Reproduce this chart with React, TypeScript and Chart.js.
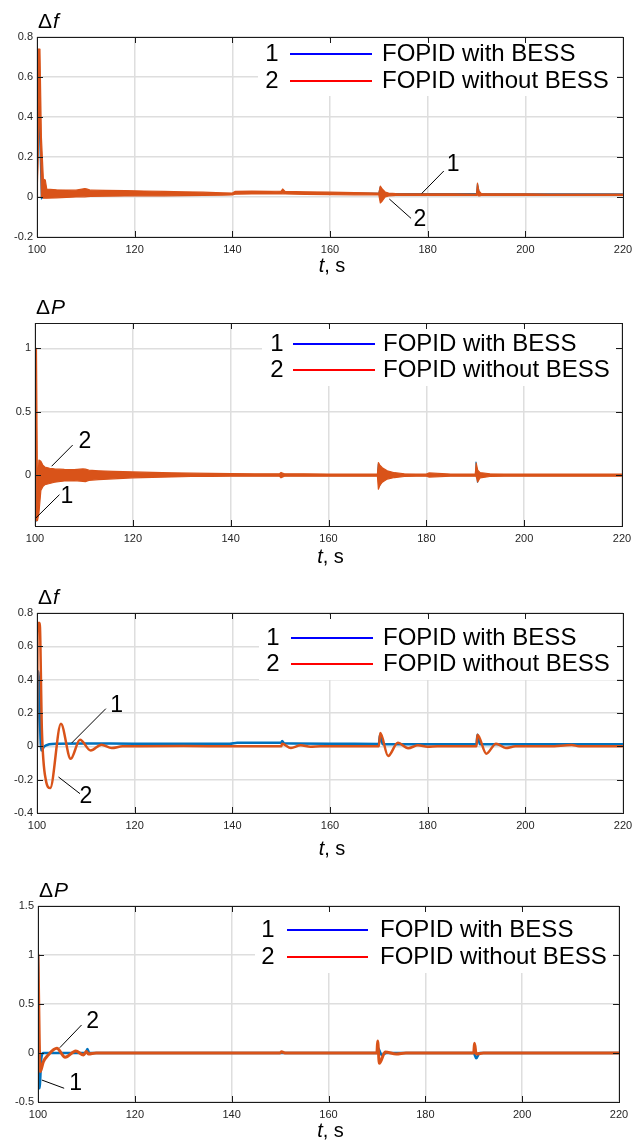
import React, { useEffect, useRef } from "react";
import { Chart, registerables } from "chart.js";

Chart.register(...registerables);

const FONT = '"Liberation Sans", Arial, Helvetica, sans-serif';
const BLUE = "#0072BD";
const ORANGE = "#D95319";
const LEG_COLORS = ["#0000FF", "#FF0000"];

const SERIES_NAMES = ["FOPID with BESS", "FOPID without BESS"];
const SERIES_NUMS = ["1", "2"];

const xTickValues = [100, 120, 140, 160, 180, 200, 220];
const xTickLabels = ["100", "120", "140", "160", "180", "200", "220"];

const yTicksF1 = [-0.2, 0, 0.2, 0.4, 0.6, 0.8];
const yLabelsF1 = ["-0.2", "0", "0.2", "0.4", "0.6", "0.8"];
const yTicksP2 = [0, 0.5, 1];
const yLabelsP2 = ["0", "0.5", "1"];
const yTicksF3 = [-0.4, -0.2, 0, 0.2, 0.4, 0.6, 0.8];
const yLabelsF3 = ["-0.4", "-0.2", "0", "0.2", "0.4", "0.6", "0.8"];
const yTicksP4 = [-0.5, 0, 0.5, 1, 1.5];
const yLabelsP4 = ["-0.5", "0", "0.5", "1", "1.5"];

// ---------- Panel 1: Δf (envelope of fast oscillation) ----------
const p1BandT = [100, 100.1, 100.6, 100.9, 101.3, 101.7, 102, 104, 106, 108, 109.8, 110.3, 111, 114, 118, 122, 126, 130, 134, 138, 140, 140.6, 144, 148, 150, 150.3, 150.8, 155, 160, 165, 170, 170.3, 170.7, 171.3, 172, 173.5, 176, 180, 185, 190, 190.2, 190.5, 191, 195, 200, 205, 210, 215, 220];
const p1WithoutHi = [0, 0.74, 0.74, 0.3, 0.09, 0.085, 0.04, 0.036, 0.035, 0.034, 0.042, 0.04, 0.034, 0.033, 0.032, 0.03, 0.028, 0.026, 0.024, 0.021, 0.02, 0.028, 0.029, 0.028, 0.03, 0.04, 0.028, 0.026, 0.024, 0.022, 0.02, 0.055, 0.04, 0.025, 0.02, 0.017, 0.016, 0.016, 0.016, 0.015, 0.07, 0.03, 0.017, 0.016, 0.016, 0.015, 0.015, 0.015, 0.015];
const p1WithoutLo = [0, 0, 0.5, 0, -0.006, -0.006, -0.006, -0.004, -0.002, 0.0, 0.001, 0.002, 0.003, 0.004, 0.005, 0.006, 0.006, 0.007, 0.008, 0.009, 0.01, 0.014, 0.015, 0.015, 0.015, 0.016, 0.015, 0.013, 0.012, 0.011, 0.01, -0.03, -0.02, 0, 0.005, 0.008, 0.008, 0.008, 0.008, 0.008, 0.01, 0.005, 0.008, 0.008, 0.008, 0.008, 0.008, 0.008, 0.008];
const p1WithT = [100, 100.3, 100.9, 101.5, 102.5, 110, 120, 130, 140, 140.6, 150, 150.3, 150.8, 160, 170, 170.3, 170.8, 180, 190, 190.2, 190.6, 200, 220];
const p1WithV = [0, 0.5, -0.01, 0.008, 0.015, 0.018, 0.017, 0.016, 0.015, 0.022, 0.022, 0.034, 0.021, 0.02, 0.018, 0.05, 0.017, 0.017, 0.017, 0.065, 0.017, 0.016, 0.016];

// ---------- Panel 2: ΔP (envelope of fast oscillation) ----------
const p2BandT = [100, 100.3, 100.5, 100.8, 101.2, 101.6, 102, 103, 104, 106, 108, 109.8, 110.3, 111, 113, 116, 120, 124, 128, 132, 136, 140, 145, 150, 150.3, 151, 155, 160, 165, 170, 170.2, 170.5, 171, 172, 173.5, 175.5, 178, 180, 180.5, 185, 190, 190.2, 190.5, 191, 193, 196, 200, 205, 210, 215, 220];
const p2WithoutHi = [1, 1, -0.1, 0.12, 0.11, 0.08, 0.065, 0.055, 0.05, 0.046, 0.045, 0.05, 0.048, 0.04, 0.035, 0.03, 0.026, 0.022, 0.019, 0.016, 0.014, 0.013, 0.012, 0.012, 0.022, 0.012, 0.011, 0.01, 0.01, 0.01, 0.1, 0.08, 0.06, 0.035, 0.02, 0.012, 0.01, 0.01, 0.018, 0.01, 0.01, 0.095, 0.04, 0.02, 0.012, 0.01, 0.01, 0.01, 0.01, 0.01, 0.01];
const p2WithoutLo = [1, -0.357, -0.357, -0.3, -0.12, -0.09, -0.075, -0.065, -0.055, -0.045, -0.042, -0.048, -0.05, -0.04, -0.034, -0.028, -0.02, -0.016, -0.013, -0.01, -0.009, -0.008, -0.008, -0.008, -0.02, -0.008, -0.008, -0.008, -0.008, -0.008, -0.11, -0.08, -0.055, -0.03, -0.018, -0.01, -0.008, -0.008, -0.014, -0.008, -0.008, -0.01, -0.053, -0.02, -0.01, -0.008, -0.008, -0.008, -0.008, -0.008, -0.008];
const p2WithT = [100, 100.3, 100.6, 101, 102, 110, 150, 170, 170.2, 170.5, 171, 190, 190.15, 190.45, 190.9, 220];
const p2WithV = [1, -0.36, -0.05, 0, 0, 0, 0, 0, 0.09, -0.08, 0, 0, 0.104, -0.055, 0, 0];

// ---------- Panel 3: Δf ----------
const p3WithoutT = [100, 100.15, 100.55, 101.0, 101.8, 102.7, 104.9, 106.9, 108.8, 111, 113.2, 115.3, 117.5, 130, 140, 150, 150.2, 152, 154, 156, 158, 170, 170.3, 171.9, 173.9, 176, 178, 180, 182, 190, 190.2, 192, 194, 196, 198, 205, 209.5, 211, 220];
const p3WithoutV = [0, 0.74, 0.74, 0.1, -0.2, -0.25, 0.135, -0.075, 0.04, -0.025, 0.01, -0.01, 0, 0.002, 0, 0, 0.015, -0.01, 0.006, -0.002, 0, 0, 0.08, -0.058, 0.022, -0.011, 0.006, -0.002, 0, 0, 0.07, -0.044, 0.016, -0.01, 0, 0, 0.008, 0, 0];
const p3WithT = [100, 100.3, 100.85, 101.5, 102.5, 104, 110, 120, 130, 139.5, 141, 150, 150.2, 150.6, 160, 170, 170.25, 170.8, 180, 190, 190.2, 190.7, 200, 220];
const p3WithV = [0, 0.45, -0.025, 0, 0.012, 0.016, 0.017, 0.016, 0.016, 0.016, 0.022, 0.022, 0.032, 0.018, 0.016, 0.014, 0.07, 0.012, 0.013, 0.013, 0.07, 0.012, 0.012, 0.012];

// ---------- Panel 4: ΔP ----------
const p4WithoutT = [100, 100.45, 101.1, 102.1, 103.9, 105.6, 107.8, 109.4, 110, 110.4, 112, 120, 140, 150, 150.3, 151, 160, 170, 170.15, 170.5, 171.7, 174, 176, 180, 190, 190.15, 190.5, 192, 200, 220];
const p4WithoutV = [1, -0.19, -0.09, -0.02, 0.048, -0.044, 0.02, -0.02, 0.015, -0.01, 0, 0, 0, 0, 0.012, 0, 0, 0, 0.122, -0.105, 0.01, -0.01, 0, 0, 0, 0.1, -0.01, 0, 0, 0];
const p4WithT = [100, 100.3, 100.7, 101.1, 102, 109.8, 110.2, 110.6, 120, 150, 170, 170.2, 171, 172, 190, 190.5, 191.2, 220];
const p4WithV = [1, -0.36, -0.05, 0, 0, 0, 0.04, 0, 0, 0, 0, 0.05, -0.02, 0, 0, -0.054, 0, 0];

type Pt = { x: number; y: number };
const zip = (t: number[], v: number[]): Pt[] => t.map((x, i) => ({ x, y: v[i] }));

const common = { pointRadius: 0, borderJoinStyle: "round", borderCapStyle: "round" };

function bandSets(bt: number[], hi: number[], lo: number[], wt: number[], wv: number[]) {
  return [
    { ...common, data: zip(bt, hi), borderColor: ORANGE, backgroundColor: ORANGE, borderWidth: 1.2, fill: "+1", tension: 0, order: 0 },
    { ...common, data: zip(bt, lo), borderColor: ORANGE, borderWidth: 1.2, fill: false, tension: 0, order: 0 },
    { ...common, data: zip(wt, wv), borderColor: BLUE, borderWidth: 1.2, fill: false, tension: 0, order: 1 },
  ];
}
function cleanSets(ot: number[], ov: number[], wt: number[], wv: number[], ow: number) {
  return [
    { ...common, data: zip(ot, ov), borderColor: ORANGE, borderWidth: ow, fill: false, cubicInterpolationMode: "monotone", order: 0 },
    { ...common, data: zip(wt, wv), borderColor: BLUE, borderWidth: 2.5, fill: false, cubicInterpolationMode: "monotone", order: 1 },
  ];
}

interface PanelCfg {
  top: number;
  height: number;
  plot: { l: number; t: number; r: number; b: number };
  yMin: number;
  yMax: number;
  yTicks: number[];
  yLabels: string[];
  yName: string;
  xNameDy: number;
  datasets: any[];
  legend: { numX: number; lineX1: number; lineX2: number; textX: number; row1: number; row2: number; boxL: number; boxB: number };
  notes: { text: string; tx: number; ty: number; x1: number; y1: number; x2: number; y2: number }[];
}

const PANELS: PanelCfg[] = [
  {
    top: 0, height: 285, plot: { l: 37, t: 37, r: 623, b: 237 },
    yMin: -0.2, yMax: 0.8, yTicks: yTicksF1, yLabels: yLabelsF1, yName: "f", xNameDy: 35,
    datasets: bandSets(p1BandT, p1WithoutHi, p1WithoutLo, p1WithT, p1WithV),
    legend: { numX: 272, lineX1: 290, lineX2: 372, textX: 382, row1: 54, row2: 81, boxL: 258, boxB: 96 },
    notes: [
      { text: "1", tx: 185.2, ty: 0.16, x1: 183.3, y1: 0.13, x2: 178.8, y2: 0.018 },
      { text: "2", tx: 178.4, ty: -0.115, x1: 176.6, y1: -0.107, x2: 172.15, y2: -0.01 },
    ],
  },
  {
    top: 285, height: 290, plot: { l: 35, t: 323, r: 622, b: 526 },
    yMin: -0.4, yMax: 1.2, yTicks: yTicksP2, yLabels: yLabelsP2, yName: "P", xNameDy: 37,
    datasets: bandSets(p2BandT, p2WithoutHi, p2WithoutLo, p2WithT, p2WithV),
    legend: { numX: 277, lineX1: 293, lineX2: 375, textX: 383, row1: 344, row2: 370, boxL: 262, boxB: 386 },
    notes: [
      { text: "2", tx: 110.2, ty: 0.264, x1: 107.7, y1: 0.238, x2: 103.4, y2: 0.071 },
      { text: "1", tx: 106.5, ty: -0.172, x1: 105, y1: -0.153, x2: 100.2, y2: -0.336 },
    ],
  },
  {
    top: 575, height: 290, plot: { l: 37, t: 613, r: 623, b: 813 },
    yMin: -0.4, yMax: 0.8, yTicks: yTicksF3, yLabels: yLabelsF3, yName: "f", xNameDy: 42,
    datasets: cleanSets(p3WithoutT, p3WithoutV, p3WithT, p3WithV, 2.5),
    legend: { numX: 273, lineX1: 291, lineX2: 373, textX: 383, row1: 638, row2: 664, boxL: 259, boxB: 680 },
    notes: [
      { text: "1", tx: 116.3, ty: 0.246, x1: 114.1, y1: 0.226, x2: 107.1, y2: 0.02 },
      { text: "2", tx: 110, ty: -0.304, x1: 108.8, y1: -0.284, x2: 104.4, y2: -0.184 },
    ],
  },
  {
    top: 865, height: 275, plot: { l: 38, t: 906, r: 619, b: 1102 },
    yMin: -0.5, yMax: 1.5, yTicks: yTicksP4, yLabels: yLabelsP4, yName: "P", xNameDy: 35,
    datasets: cleanSets(p4WithoutT, p4WithoutV, p4WithT, p4WithV, 3),
    legend: { numX: 268, lineX1: 287, lineX2: 368, textX: 380, row1: 930, row2: 957, boxL: 255, boxB: 973 },
    notes: [
      { text: "2", tx: 111.3, ty: 0.32, x1: 109, y1: 0.286, x2: 104.5, y2: 0.054 },
      { text: "1", tx: 107.8, ty: -0.31, x1: 105.4, y1: -0.36, x2: 100.8, y2: -0.276 },
    ],
  },
];

function overlayPlugin(cfg: PanelCfg) {
  return {
    id: "overlay",
    afterDraw(chart: any) {
      const ctx: CanvasRenderingContext2D = chart.ctx;
      const { left, top, right, bottom } = chart.chartArea;
      const xs = chart.scales.x;
      const ys = chart.scales.y;
      const off = cfg.top;
      const L = cfg.legend;
      ctx.save();

      // legend
      ctx.fillStyle = "#ffffff";
      ctx.fillRect(L.boxL, top + 2, right - 6 - L.boxL, L.boxB - off - top - 2);
      const rows = [L.row1 - off, L.row2 - off];
      rows.forEach((ry, i) => {
        ctx.strokeStyle = LEG_COLORS[i];
        ctx.lineWidth = 2;
        ctx.beginPath();
        ctx.moveTo(L.lineX1, ry);
        ctx.lineTo(L.lineX2, ry);
        ctx.stroke();
        ctx.fillStyle = "#000";
        ctx.font = `24px ${FONT}`;
        ctx.textBaseline = "middle";
        ctx.textAlign = "center";
        ctx.fillText(SERIES_NUMS[i], L.numX, ry);
        ctx.textAlign = "left";
        ctx.fillText(SERIES_NAMES[i], L.textX, ry);
      });

      // notes with leader lines
      ctx.strokeStyle = "#000";
      ctx.lineWidth = 1;
      ctx.fillStyle = "#000";
      ctx.font = `23px ${FONT}`;
      ctx.textAlign = "center";
      ctx.textBaseline = "middle";
      cfg.notes.forEach((n) => {
        ctx.beginPath();
        ctx.moveTo(xs.getPixelForValue(n.x1), ys.getPixelForValue(n.y1));
        ctx.lineTo(xs.getPixelForValue(n.x2), ys.getPixelForValue(n.y2));
        ctx.stroke();
        ctx.fillText(n.text, xs.getPixelForValue(n.tx), ys.getPixelForValue(n.ty));
      });

      // box
      ctx.strokeStyle = "#1a1a1a";
      ctx.lineWidth = 1;
      ctx.strokeRect(left + 0.5, top + 0.5, right - left, bottom - top);

      // inward ticks
      ctx.beginPath();
      xTickValues.forEach((v) => {
        const px = Math.round(xs.getPixelForValue(v)) + 0.5;
        ctx.moveTo(px, bottom);
        ctx.lineTo(px, bottom - 6);
        ctx.moveTo(px, top);
        ctx.lineTo(px, top + 6);
      });
      cfg.yTicks.forEach((v) => {
        const py = Math.round(ys.getPixelForValue(v)) + 0.5;
        ctx.moveTo(left, py);
        ctx.lineTo(left + 6, py);
        ctx.moveTo(right, py);
        ctx.lineTo(right - 6, py);
      });
      ctx.stroke();

      // tick labels
      ctx.fillStyle = "#262626";
      ctx.font = `11px ${FONT}`;
      ctx.textBaseline = "middle";
      ctx.textAlign = "center";
      xTickValues.forEach((v, i) => {
        ctx.fillText(xTickLabels[i], xs.getPixelForValue(v), bottom + 13);
      });
      ctx.textAlign = "right";
      cfg.yTicks.forEach((v, i) => {
        ctx.fillText(cfg.yLabels[i], left - 4, ys.getPixelForValue(v));
      });

      // y name: Δf / ΔP
      ctx.fillStyle = "#000";
      ctx.textAlign = "left";
      ctx.textBaseline = "alphabetic";
      ctx.font = `21px ${FONT}`;
      ctx.fillText("\u0394", left + 1, top - 9);
      const dw = ctx.measureText("\u0394").width;
      ctx.font = `italic 21px ${FONT}`;
      ctx.fillText(cfg.yName, left + 1 + dw + 1, top - 9);

      // x name: t, s
      ctx.font = `italic 20px ${FONT}`;
      const tw = ctx.measureText("t").width;
      ctx.font = `20px ${FONT}`;
      const rw = ctx.measureText(", s").width;
      const cx = (left + right) / 2 + 2;
      const sx = cx - (tw + rw) / 2;
      const by = bottom + cfg.xNameDy;
      ctx.font = `italic 20px ${FONT}`;
      ctx.fillText("t", sx, by);
      ctx.font = `20px ${FONT}`;
      ctx.fillText(", s", sx + tw, by);

      ctx.restore();
    },
  };
}

function Panel({ cfg }: { cfg: PanelCfg }) {
  const ref = useRef<HTMLCanvasElement>(null);
  useEffect(() => {
    const canvas = ref.current!;
    const p = cfg.plot;
    const chart = new Chart(canvas, {
      type: "line",
      data: { datasets: cfg.datasets },
      options: {
        responsive: false,
        animation: false,
        devicePixelRatio: 1,
        layout: {
          padding: {
            left: p.l,
            top: p.t - cfg.top,
            right: 632 - p.r,
            bottom: cfg.height - (p.b - cfg.top),
          },
        },
        plugins: { legend: { display: false }, tooltip: { enabled: false } },
        scales: {
          x: {
            type: "linear",
            min: 100,
            max: 220,
            afterFit: (s: any) => { s.height = 0; },
            afterBuildTicks: (s: any) => { s.ticks = xTickValues.map((v) => ({ value: v })); },
            ticks: { display: false },
            grid: { color: "#dedede", lineWidth: 1.5, drawTicks: false },
            border: { display: false },
          },
          y: {
            type: "linear",
            min: cfg.yMin,
            max: cfg.yMax,
            afterFit: (s: any) => { s.width = 0; },
            afterBuildTicks: (s: any) => { s.ticks = cfg.yTicks.map((v) => ({ value: v })); },
            ticks: { display: false },
            grid: { color: "#dedede", lineWidth: 1.5, drawTicks: false },
            border: { display: false },
          },
        },
      } as any,
      plugins: [overlayPlugin(cfg)],
    });
    return () => chart.destroy();
  }, [cfg]);
  return (
    <canvas
      ref={ref}
      width={632}
      height={cfg.height}
      style={{ position: "absolute", left: 0, top: cfg.top, width: 632, height: cfg.height, display: "block" }}
    />
  );
}

export default function App() {
  return (
    <div style={{ position: "absolute", left: 0, top: 0, width: 632, height: 1140, background: "#fff", overflow: "hidden" }}>
      {PANELS.map((cfg, i) => (
        <Panel key={i} cfg={cfg} />
      ))}
    </div>
  );
}
